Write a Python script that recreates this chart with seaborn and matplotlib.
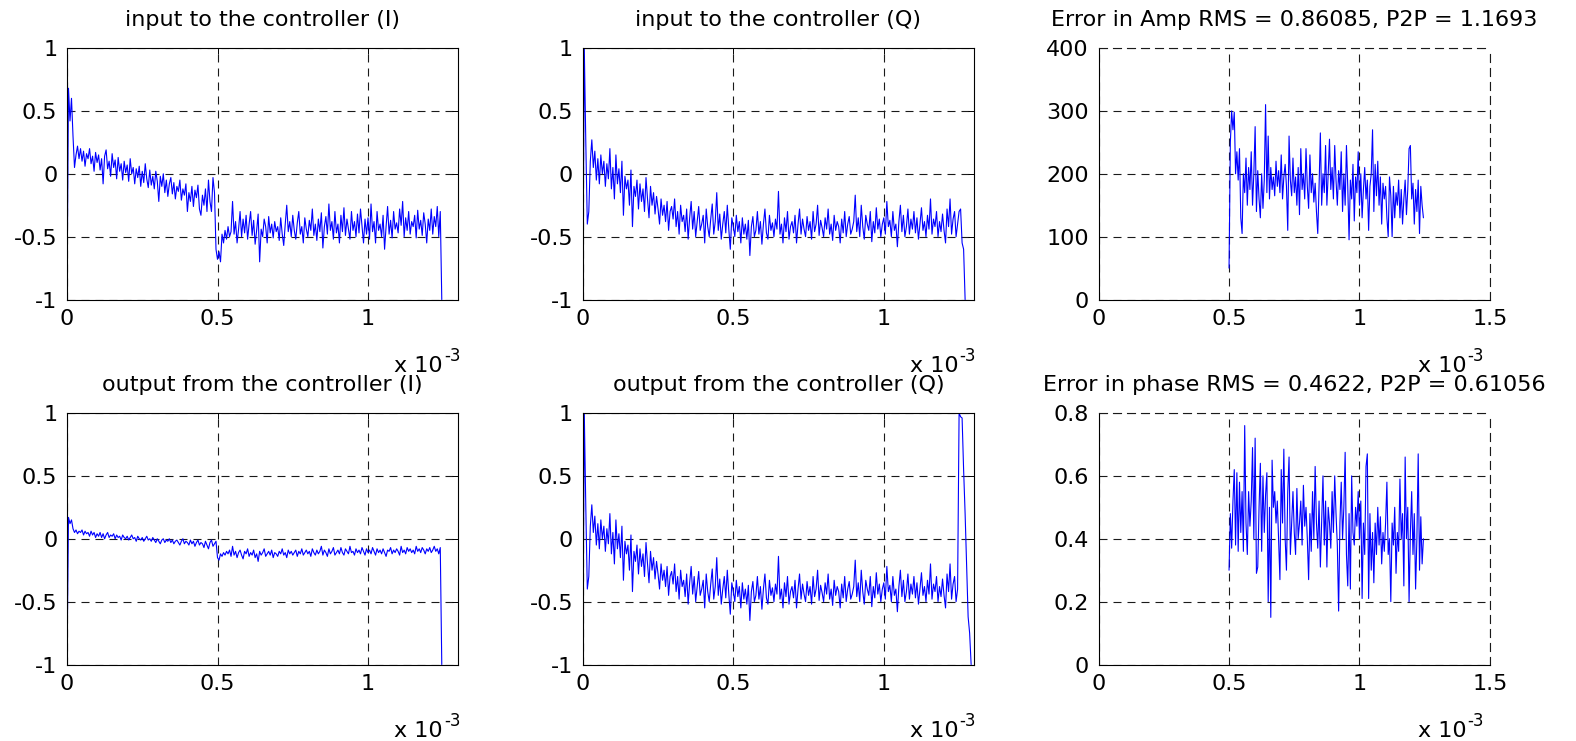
import numpy as np
import pandas as pd
import seaborn as sns
import matplotlib.pyplot as plt

# sample spacing of the traces (seconds)
DT = 5e-6

# input to the controller (I), from t = 0
i_in = [
    -1.0, 0.68, 0.42, 0.60, 0.30, 0.05, 0.15, 0.22, 0.12, 0.20,
    0.10, 0.18, 0.06, 0.16, 0.12, 0.20, 0.08, 0.14, 0.02, 0.17,
    0.09, 0.15, 0.03, 0.12, -0.08, 0.14, 0.19, 0.04, 0.10, -0.02,
    0.16, 0.05, 0.11, -0.04, 0.13, 0.02, 0.08, -0.05, 0.10, 0.01,
    0.07, -0.06, 0.12, 0.00, 0.05, -0.08, 0.04, -0.03, 0.06, -0.10,
    0.02, -0.07, 0.08, -0.04, -0.11, 0.03, -0.09, -0.02, -0.12, 0.02,
    -0.06, -0.22, -0.02, -0.10, 0.00, -0.15, -0.05, -0.18, -0.08, -0.03,
    -0.16, -0.07, -0.20, -0.10, -0.14, -0.05, -0.21, -0.12, -0.17, -0.08,
    -0.30, -0.15, -0.22, -0.10, -0.26, -0.13, -0.19, -0.09, -0.28, -0.33,
    -0.17, -0.25, -0.12, -0.30, -0.05, -0.22, -0.30, -0.03, -0.15, -0.60,
    -0.68, -0.62, -0.70, -0.48, -0.55, -0.45, -0.52, -0.42, -0.50, -0.46,
    -0.22, -0.48, -0.38, -0.55, -0.44, -0.30, -0.50, -0.36, -0.47, -0.33,
    -0.52, -0.40, -0.30, -0.49, -0.37, -0.56, -0.45, -0.32, -0.70, -0.44,
    -0.50, -0.36, -0.42, -0.55, -0.34, -0.47, -0.40, -0.51, -0.38, -0.46,
    -0.42, -0.53, -0.35, -0.48, -0.57, -0.40, -0.25, -0.46, -0.38, -0.50,
    -0.33, -0.45, -0.52, -0.39, -0.30, -0.48, -0.42, -0.55, -0.35, -0.44,
    -0.50, -0.37, -0.45, -0.28, -0.49, -0.40, -0.53, -0.36, -0.46, -0.31,
    -0.59, -0.42, -0.34, -0.48, -0.24, -0.45, -0.38, -0.52, -0.30, -0.47,
    -0.40, -0.55, -0.33, -0.46, -0.27, -0.49, -0.36, -0.44, -0.52, -0.30,
    -0.45, -0.38, -0.50, -0.32, -0.47, -0.28, -0.42, -0.55, -0.36, -0.48,
    -0.35, -0.52, -0.24, -0.46, -0.38, -0.55, -0.30, -0.45, -0.40, -0.50,
    -0.33, -0.60, -0.42, -0.26, -0.48, -0.37, -0.51, -0.30, -0.44, -0.39,
    -0.47, -0.28, -0.41, -0.22, -0.50, -0.35, -0.45, -0.30, -0.48, -0.38,
    -0.42, -0.33, -0.51, -0.29, -0.44, -0.37, -0.49, -0.31, -0.40, -0.55,
    -0.36, -0.45, -0.28, -0.48, -0.34, -0.42, -0.26, -0.50, -0.30, -1.0,
]

# input to the controller (Q), from t = 0
q_in = [
    -1.0, 1.0, 0.25, -0.40, -0.30, 0.10, 0.27, 0.05, 0.18, -0.05,
    0.12, -0.08, 0.15, 0.00, 0.10, -0.10, 0.08, -0.04, 0.20, -0.12,
    0.05, -0.20, 0.15, -0.08, 0.04, -0.15, 0.10, -0.33, -0.02, -0.12,
    -0.05, -0.25, 0.03, -0.42, -0.10, -0.18, -0.05, -0.28, -0.08, -0.22,
    -0.12, -0.30, -0.03, -0.20, -0.35, -0.10, -0.25, -0.15, -0.32, -0.18,
    -0.28, -0.40, -0.20, -0.33, -0.25, -0.38, -0.22, -0.45, -0.30, -0.26,
    -0.36, -0.20, -0.42, -0.30, -0.48, -0.25, -0.38, -0.33, -0.46, -0.28,
    -0.52, -0.35, -0.22, -0.44, -0.30, -0.50, -0.38, -0.26, -0.45, -0.40,
    -0.33, -0.55, -0.28, -0.42, -0.50, -0.36, -0.24, -0.48, -0.38, -0.15,
    -0.45, -0.32, -0.52, -0.40, -0.30, -0.47, -0.25, -0.44, -0.60, -0.35,
    -0.42, -0.50, -0.33, -0.46, -0.38, -0.55, -0.35, -0.48, -0.40, -0.52,
    -0.37, -0.65, -0.42, -0.34, -0.50, -0.45, -0.30, -0.48, -0.38, -0.56,
    -0.40, -0.28, -0.47, -0.52, -0.33, -0.45, -0.39, -0.50, -0.36, -0.44,
    -0.14, -0.48, -0.40, -0.55, -0.35, -0.46, -0.30, -0.52, -0.42, -0.38,
    -0.47, -0.33, -0.55, -0.40, -0.28, -0.48, -0.36, -0.44, -0.50, -0.34,
    -0.45, -0.38, -0.52, -0.30, -0.46, -0.40, -0.25, -0.49, -0.37, -0.43,
    -0.50, -0.35, -0.44, -0.28, -0.48, -0.40, -0.53, -0.33, -0.45, -0.38,
    -0.42, -0.55, -0.36, -0.47, -0.30, -0.50, -0.40, -0.34, -0.48, -0.44,
    -0.38, -0.17, -0.46, -0.35, -0.50, -0.25, -0.42, -0.52, -0.33, -0.40,
    -0.45, -0.30, -0.54, -0.38, -0.47, -0.27, -0.44, -0.36, -0.50, -0.40,
    -0.35, -0.48, -0.22, -0.42, -0.37, -0.50, -0.30, -0.45, -0.40, -0.58,
    -0.38, -0.25, -0.46, -0.33, -0.50, -0.42, -0.28, -0.48, -0.36, -0.44,
    -0.30, -0.47, -0.35, -0.52, -0.40, -0.27, -0.45, -0.38, -0.50, -0.33,
    -0.44, -0.20, -0.48, -0.36, -0.42, -0.30, -0.50, -0.38, -0.46, -0.32,
    -0.45, -0.55, -0.28, -0.42, -0.20, -0.48, -0.36, -0.30, -0.50, -0.40,
    -0.30, -0.28, -0.55, -0.60, -1.0,
]

# output from the controller (I), from t = 0
i_out = [
    -1.0, 0.17, 0.12, 0.15, 0.08, 0.05, 0.07, 0.04, 0.06, 0.05,
    0.07, 0.03, 0.06, 0.04, 0.05, 0.02, 0.06, 0.03, 0.05, 0.01,
    0.04, 0.02, 0.05, 0.01, 0.04, 0.00, 0.03, 0.05, 0.01, 0.03,
    0.02, 0.04, 0.00, 0.03, 0.01, 0.02, -0.01, 0.03, 0.01, 0.00,
    0.02, -0.01, 0.01, 0.03, 0.00, 0.01, -0.02, 0.02, 0.00, -0.01,
    0.01, -0.02, 0.00, 0.02, -0.01, 0.00, -0.02, 0.01, -0.01, -0.03,
    0.00, -0.02, -0.04, -0.01, 0.00, -0.03, -0.01, -0.02, 0.00, -0.03,
    -0.01, -0.04, -0.02, -0.01, -0.03, -0.05, -0.02, 0.00, -0.04, -0.02,
    -0.03, -0.05, -0.01, -0.04, -0.02, -0.06, -0.03, -0.01, -0.05, -0.03,
    -0.04, -0.07, -0.02, -0.05, -0.08, -0.03, -0.01, -0.06, -0.04, -0.02,
    -0.15, -0.17, -0.12, -0.14, -0.11, -0.13, -0.10, -0.12, -0.09, -0.14,
    -0.06, -0.13, -0.10, -0.15, -0.11, -0.09, -0.13, -0.16, -0.10, -0.12,
    -0.08, -0.14, -0.11, -0.13, -0.09, -0.15, -0.12, -0.18, -0.10, -0.13,
    -0.11, -0.08, -0.14, -0.12, -0.10, -0.13, -0.09, -0.15, -0.11, -0.12,
    -0.14, -0.10, -0.12, -0.08, -0.13, -0.11, -0.15, -0.09, -0.12, -0.10,
    -0.13, -0.11, -0.09, -0.14, -0.10, -0.12, -0.08, -0.13, -0.11, -0.09,
    -0.12, -0.10, -0.14, -0.08, -0.11, -0.13, -0.09, -0.12, -0.10, -0.06,
    -0.13, -0.09, -0.11, -0.14, -0.08, -0.12, -0.10, -0.07, -0.13, -0.11,
    -0.09, -0.12, -0.07, -0.11, -0.13, -0.08, -0.10, -0.12, -0.06, -0.11,
    -0.10, -0.13, -0.08, -0.11, -0.09, -0.12, -0.07, -0.10, -0.13, -0.08,
    -0.11, -0.09, -0.12, -0.07, -0.10, -0.13, -0.08, -0.11, -0.09, -0.12,
    -0.08, -0.11, -0.14, -0.09, -0.10, -0.07, -0.12, -0.09, -0.11, -0.08,
    -0.10, -0.13, -0.06, -0.11, -0.09, -0.12, -0.07, -0.10, -0.08, -0.11,
    -0.09, -0.12, -0.06, -0.10, -0.08, -0.11, -0.07, -0.09, -0.12, -0.08,
    -0.10, -0.07, -0.11, -0.09, -0.06, -0.10, -0.08, -0.12, -0.07, -1.0,
]

# output from the controller (Q) follows the Q input up to 1.245e-3 s,
# then this burst from t = 1.25e-3
q_out_tail = [1.0, 0.97, 0.96, 0.55, 0.2, -0.2, -0.62, -0.75, -1.0]

# amplitude error, from t = 0.5e-3
amp_err = [
    50, 250, 300, 270, 298, 200, 235, 190, 240, 130,
    105, 200, 170, 225, 150, 210, 175, 235, 150, 200,
    275, 140, 205, 160, 130, 200, 145, 190, 310, 170,
    260, 160, 210, 175, 195, 165, 220, 180, 205, 170,
    230, 160, 195, 215, 180, 110, 260, 190, 165, 225,
    170, 195, 150, 210, 135, 240, 175, 200, 160, 240,
    180, 145, 230, 170, 200, 155, 185, 140, 105, 180,
    265, 150, 200, 170, 245, 150, 200, 255, 175, 210,
    160, 245, 190, 150, 205, 175, 235, 140, 200, 150,
    245, 180, 95, 190, 160, 215, 125, 195, 170, 235,
    150, 200, 130, 175, 210, 160, 190, 110, 180, 200,
    270, 140, 215, 165, 220, 150, 195, 120, 185, 160,
    180, 130, 100, 195, 165, 100, 180, 130, 170, 150,
    190, 130, 175, 120, 160, 190, 135, 175, 240, 245,
    160, 185, 120, 175, 140, 190, 105, 180, 150, 130,
]

# phase error, from t = 0.5e-3
phase_err = [
    0.30, 0.48, 0.37, 0.52, 0.62, 0.38, 0.61, 0.36, 0.58, 0.42,
    0.55, 0.36, 0.76, 0.45, 0.35, 0.55, 0.44, 0.52, 0.69, 0.40,
    0.72, 0.29, 0.31, 0.50, 0.64, 0.36, 0.60, 0.42, 0.54, 0.61,
    0.20, 0.50, 0.15, 0.65, 0.50, 0.55, 0.45, 0.52, 0.40, 0.27,
    0.62, 0.45, 0.685, 0.40, 0.30, 0.55, 0.66, 0.35, 0.45, 0.55,
    0.42, 0.35, 0.56, 0.40, 0.45, 0.52, 0.38, 0.57, 0.44, 0.50,
    0.40, 0.27, 0.48, 0.36, 0.55, 0.40, 0.63, 0.45, 0.37, 0.52,
    0.31, 0.46, 0.60, 0.38, 0.52, 0.31, 0.50, 0.45, 0.37, 0.55,
    0.42, 0.60, 0.48, 0.38, 0.17, 0.45, 0.58, 0.40, 0.50, 0.675,
    0.35, 0.25, 0.48, 0.24, 0.60, 0.42, 0.38, 0.50, 0.44, 0.55,
    0.40, 0.52, 0.21, 0.45, 0.35, 0.63, 0.67, 0.21, 0.48, 0.30,
    0.42, 0.26, 0.45, 0.35, 0.50, 0.38, 0.47, 0.32, 0.42, 0.36,
    0.45, 0.58, 0.35, 0.40, 0.20, 0.45, 0.38, 0.50, 0.29, 0.42,
    0.36, 0.59, 0.40, 0.48, 0.25, 0.66, 0.40, 0.50, 0.20, 0.42,
    0.55, 0.35, 0.48, 0.24, 0.40, 0.67, 0.30, 0.47, 0.32, 0.40,
]

q_out = q_in[:250] + q_out_tail

titles = [
    "input to the controller (I)",
    "input to the controller (Q)",
    "Error in Amp RMS = 0.86085, P2P = 1.1693",
    "output from the controller (I)",
    "output from the controller (Q)",
    "Error in phase RMS = 0.4622, P2P = 0.61056",
]

iq_yticks = [-1, -0.5, 0, 0.5, 1]
iq_ylabels = ["-1", "-0.5", "0", "0.5", "1"]
iq_xticks = [0, 0.5e-3, 1e-3]
iq_xlabels = ["0", "0.5", "1"]
err_xticks = [0, 0.5e-3, 1e-3, 1.5e-3]
err_xlabels = ["0", "0.5", "1", "1.5"]
amp_yticks = [0, 100, 200, 300, 400]
amp_ylabels = ["0", "100", "200", "300", "400"]
ph_yticks = [0, 0.2, 0.4, 0.6, 0.8]
ph_ylabels = ["0", "0.2", "0.4", "0.6", "0.8"]

sns.set_style("white")
plt.rcParams["font.family"] = ["DejaVu Sans"]
plt.rcParams["axes.unicode_minus"] = False
plt.rcParams["text.color"] = "black"
plt.rcParams["axes.titlecolor"] = "black"

FS = 16
DASH = (0, (7.2, 5.4))
GRID = dict(color="0.1", linestyle=DASH, linewidth=0.8)


def trace(values, t0):
    return pd.DataFrame({"t": t0 + DT * np.arange(len(values)), "v": values})


def add_exponent(ax, dx):
    ax.annotate("x 10", xy=(1, 0), xycoords="axes fraction",
                xytext=(dx, -52), textcoords="offset points",
                ha="right", va="baseline", fontsize=FS, color="black")
    ax.annotate("-3", xy=(1, 0), xycoords="axes fraction",
                xytext=(dx + 0.5, -44), textcoords="offset points",
                ha="left", va="baseline", fontsize=12, color="black")


fig, axes = plt.subplots(2, 3, figsize=(15.76, 7.41), dpi=100)
fig.subplots_adjust(left=0.0425, right=0.9454, bottom=0.1032, top=0.9352,
                    wspace=0.318, hspace=0.451)

panels = [
    (trace(i_in, 0.0), "iq"),
    (trace(q_in, 0.0), "iq"),
    (trace(amp_err, 0.5e-3), "amp"),
    (trace(i_out, 0.0), "iq"),
    (trace(q_out, 0.0), "iq"),
    (trace(phase_err, 0.5e-3), "ph"),
]

for ax, (df, kind), title in zip(axes.flat, panels, titles):
    sns.lineplot(data=df, x="t", y="v", ax=ax, color="#0000ff",
                 linewidth=0.8, estimator=None, sort=False, legend=False)
    ax.set_xlabel("")
    ax.set_ylabel("")
    ax.set_title(title, fontsize=FS, pad=16, color="black")
    ax.grid(True, **GRID)
    for side in ["left", "bottom", "top", "right"]:
        ax.spines[side].set_color("black")
        ax.spines[side].set_linewidth(0.8)
    if kind == "iq":
        ax.set_xlim(0, 1.3e-3)
        ax.set_ylim(-1, 1)
        ax.set_xticks(iq_xticks)
        ax.set_xticklabels(iq_xlabels)
        ax.set_yticks(iq_yticks)
        ax.set_yticklabels(iq_ylabels)
        add_exponent(ax, -11)
    else:
        ax.set_xlim(0, 1.5e-3)
        ax.set_xticks(err_xticks)
        ax.set_xticklabels(err_xlabels)
        if kind == "amp":
            ax.set_ylim(0, 400)
            ax.set_yticks(amp_yticks)
            ax.set_yticklabels(amp_ylabels)
        else:
            ax.set_ylim(0, 0.8)
            ax.set_yticks(ph_yticks)
            ax.set_yticklabels(ph_ylabels)
        # no box on these two: the edges are just grid lines
        for side in ["top", "right"]:
            ax.spines[side].set_linestyle(DASH)
            ax.spines[side].set_color("0.1")
        add_exponent(ax, -17)
    ax.tick_params(axis="both", direction="in", length=4, width=0.7,
                   labelsize=FS, colors="black", pad=7,
                   top=(kind == "iq"), right=(kind == "iq"))

fig.savefig("out.png", dpi=100)
